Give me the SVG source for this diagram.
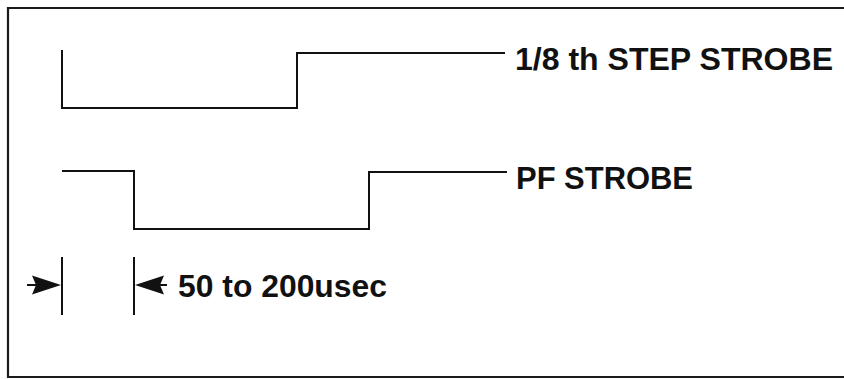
<svg xmlns="http://www.w3.org/2000/svg" width="844" height="379" viewBox="0 0 844 379">
<style>
.w{fill:none;stroke:#111;stroke-width:2}
.f{fill:none;stroke:#1a1a1a;stroke-width:2.2}
.t{font-family:"Liberation Sans",Arial,sans-serif;font-weight:bold;font-size:31px;fill:#111}
.h{fill:#111}
</style>
<defs>
<path id="ah" class="h" d="M0,0 L-29,-9.5 L-25,0 L-29,9.5 Z"/>
</defs>
<rect width="844" height="379" fill="#fff"/>
<path class="f" d="M844,8 H8 V377 H844"/>
<g id="step-strobe">
<path class="w" d="M62,50 V108 H297 V53 H505"/>
<text class="t" x="515" y="70" textLength="318" lengthAdjust="spacingAndGlyphs">1/8 th STEP STROBE</text>
</g>
<g id="pf-strobe">
<path class="w" d="M62,171 H134 V229 H369 V172 H507"/>
<text class="t" x="516" y="189" textLength="177" lengthAdjust="spacingAndGlyphs">PF STROBE</text>
</g>
<g id="connectors">
<line class="w" x1="27" y1="285" x2="40" y2="285"/>
<use href="#ah" transform="translate(61,285)"/>
<line class="w" x1="167" y1="285" x2="156" y2="285"/>
<use href="#ah" transform="translate(135,285) rotate(180)"/>
<line class="w" x1="62" y1="257" x2="62" y2="315"/>
<line class="w" x1="134" y1="257" x2="134" y2="315"/>
</g>
<g id="interval-label">
<text class="t" x="178" y="297" textLength="209" lengthAdjust="spacingAndGlyphs">50 to 200usec</text>
</g>
</svg>
